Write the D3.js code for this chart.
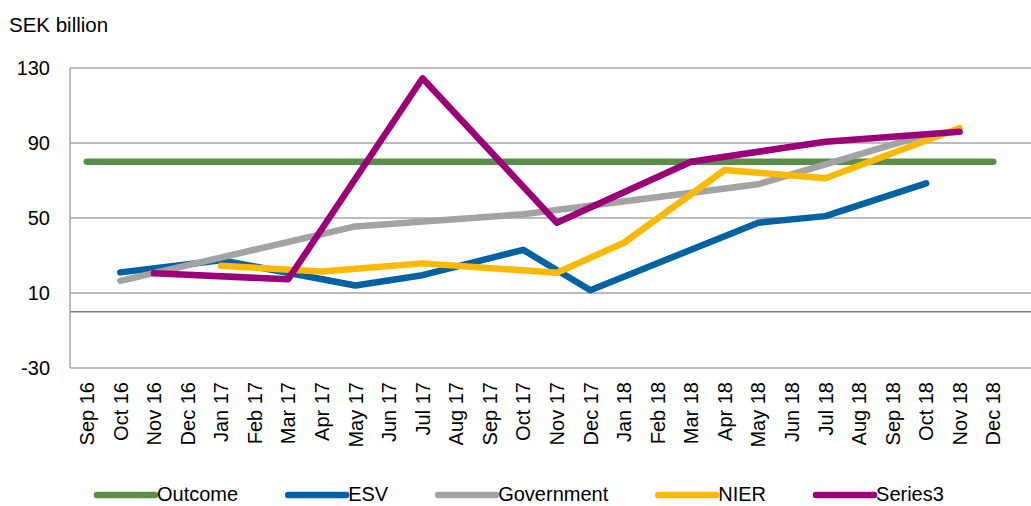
<!DOCTYPE html>
<html>
<head>
<meta charset="utf-8">
<script src="https://cdn.jsdelivr.net/npm/d3@7/dist/d3.min.js"></script>
<style>
    body { margin: 0; background: #fff; }
    svg { display: block; font-family: "Liberation Sans", Arial, sans-serif; }
    .tick-label { font-size: 20px; fill: #000; }
    .legend-label { font-size: 20px; fill: #000; }
</style>
</head>
<body>
<svg id="chart" width="1031" height="506"></svg>
<script>
// Months on the x axis
const months = [
    "Sep 16", "Oct 16", "Nov 16", "Dec 16",
    "Jan 17", "Feb 17", "Mar 17", "Apr 17", "May 17", "Jun 17",
    "Jul 17", "Aug 17", "Sep 17", "Oct 17", "Nov 17", "Dec 17",
    "Jan 18", "Feb 18", "Mar 18", "Apr 18", "May 18", "Jun 18",
    "Jul 18", "Aug 18", "Sep 18", "Oct 18", "Nov 18", "Dec 18"
];

// Series values, one per month (null = no point, line joins across the gap)
const outcome = [80, 80, 80, 80, 80, 80, 80, 80, 80, 80, 80, 80, 80, 80,
                 80, 80, 80, 80, 80, 80, 80, 80, 80, 80, 80, 80, 80, 80];
const esv = [null, 21, null, null, 27.5, null, null, null, 14, null,
             19.5, null, null, 33, null, 11.5, null, null, null, null,
             47.5, null, 51, null, null, 68.5, null, null];
const government = [null, 16.5, null, null, null, null, null, null, 45.5, null,
                    null, null, null, 52, null, null, null, null, null, null,
                    68, null, null, null, null, 94.5, null, null];
const nier = [null, null, null, null, 24.5, null, null, 21.5, null, null,
              25.8, null, null, null, 20.8, null, 36.8, null, null, 75.6,
              null, null, 71.2, null, null, null, 98, null];
const series3 = [null, null, 20.5, null, null, null, 17.3, null, null, null,
                 124.5, null, null, null, 47.5, null, null, null, 80, null,
                 null, null, 90.7, null, null, null, 96, null];

// Y axis ticks
const yTicks = [-30, 10, 50, 90, 130];

const seriesList = [
    { name: "Outcome", values: outcome, color: "#5b8e48" },
    { name: "ESV", values: esv, color: "#0062a2" },
    { name: "Government", values: government, color: "#a3a3a3" },
    { name: "NIER", values: nier, color: "#fbb900" },
    { name: "Series3", values: series3, color: "#9c0079" }
];

const svg = d3.select("#chart");
const width = 1031;
const plot = { left: 70, top: 68, right: 1010, bottom: 368 };

const x = d3.scaleBand()
    .domain(months)
    .range([plot.left, plot.right])
    .padding(0);

const y = d3.scaleLinear()
    .domain([-30, 130])
    .range([plot.bottom, plot.top]);

const xc = m => x(m) + x.bandwidth() / 2;

// Unit label
svg.append("text")
    .attr("x", 9)
    .attr("y", 32)
    .attr("font-size", 20.5)
    .text("SEK billion");

// Horizontal gridlines
svg.append("g")
    .selectAll("line")
    .data(yTicks)
    .enter()
    .append("line")
    .attr("x1", plot.left)
    .attr("x2", width)
    .attr("y1", d => y(d))
    .attr("y2", d => y(d))
    .attr("stroke", "#a6a6a6")
    .attr("stroke-width", 1.5);

// Zero line
svg.append("line")
    .attr("x1", plot.left)
    .attr("x2", width)
    .attr("y1", y(0))
    .attr("y2", y(0))
    .attr("stroke", "#7f7f7f")
    .attr("stroke-width", 1.5);

// Left frame
svg.append("line")
    .attr("x1", plot.left)
    .attr("x2", plot.left)
    .attr("y1", plot.top)
    .attr("y2", plot.bottom)
    .attr("stroke", "#a6a6a6")
    .attr("stroke-width", 1.5);

// Y tick labels
svg.append("g")
    .selectAll("text")
    .data(yTicks)
    .enter()
    .append("text")
    .attr("class", "tick-label")
    .attr("x", 50)
    .attr("y", d => y(d))
    .attr("dy", "0.36em")
    .attr("text-anchor", "end")
    .text(d => d);

// X tick labels, rotated
svg.append("g")
    .selectAll("text")
    .data(months)
    .enter()
    .append("text")
    .attr("class", "tick-label")
    .attr("transform", d => `translate(${xc(d)},382) rotate(-90)`)
    .attr("dy", "0.36em")
    .attr("text-anchor", "end")
    .text(d => d);

// Series lines
const line = d3.line()
    .x(d => xc(d.month))
    .y(d => y(d.value));

seriesList.forEach(s => {
    const pts = months
        .map((m, i) => ({ month: m, value: s.values[i] }))
        .filter(d => d.value !== null);
    svg.append("path")
        .datum(pts)
        .attr("d", line)
        .attr("fill", "none")
        .attr("stroke", s.color)
        .attr("stroke-width", 6.5)
        .attr("stroke-linecap", "round")
        .attr("stroke-linejoin", "round");
});

// Legend along the bottom
const legend = svg.append("g");
let lx = 97;
seriesList.forEach(s => {
    legend.append("line")
        .attr("x1", lx)
        .attr("x2", lx + 58)
        .attr("y1", 495)
        .attr("y2", 495)
        .attr("stroke", s.color)
        .attr("stroke-width", 6.5)
        .attr("stroke-linecap", "round");
    const t = legend.append("text")
        .attr("class", "legend-label")
        .attr("x", lx + 60)
        .attr("y", 501)
        .text(s.name);
    lx += 60 + t.node().getComputedTextLength() + 50;
});
</script>
</body>
</html>
